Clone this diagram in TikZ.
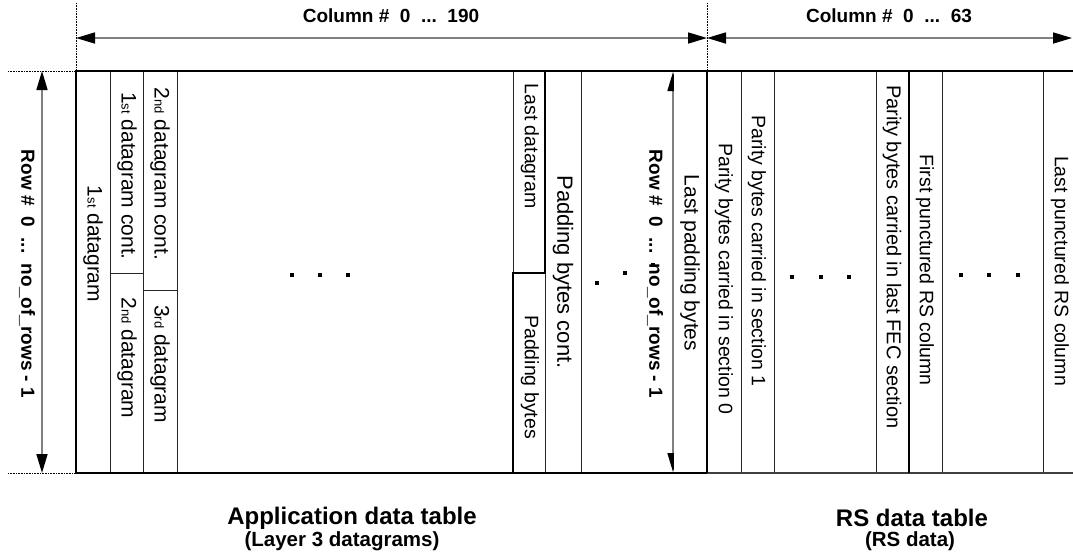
\documentclass[tikz,border=0pt]{standalone}
\usepackage{fontspec}
\setmainfont{Liberation Sans}
\usetikzlibrary{arrows.meta}
% small ordinal suffix, set on the baseline
\newcommand\ordsfx[1]{{\fontsize{13}{13}\selectfont #1}}
\begin{document}
\begin{tikzpicture}[x=1pt,y=-1pt,
  cellline/.style={line width=0.9pt,black!85},
  boldline/.style={line width=2.6pt,black},
  guideline/.style={line width=0.7pt,black,dash pattern=on 0.8pt off 0.8pt},
  dimarrow/.style={line width=1.6pt,gray,
    {Triangle[length=19pt,width=11pt,black]}-{Triangle[length=19pt,width=11pt,black]}},
  vtext/.style={rotate=-90,inner sep=0pt,font=\fontsize{19.5}{22}\selectfont},
  vmid/.style={rotate=-90,inner sep=0pt,font=\fontsize{21}{24}\selectfont},
  vbig/.style={rotate=-90,inner sep=0pt,font=\fontsize{22}{25}\selectfont},
  vlabel/.style={rotate=-90,inner sep=0pt,font=\fontsize{19}{22}\selectfont\bfseries},
  hlabel/.style={inner sep=0pt,font=\fontsize{19}{22}\selectfont\bfseries},
  tabletitle/.style={inner sep=0pt,font=\fontsize{24}{28}\selectfont\bfseries},
  tablesub/.style={inner sep=0pt,font=\fontsize{20.5}{23}\selectfont\bfseries},
  ellipsisdot/.style={fill=black,draw=none,minimum size=4pt,inner sep=0pt,rectangle},
]
\useasboundingbox (0,0) rectangle (1073,558);

% reference corners of the two tables
\coordinate (tl) at (76,71);
\coordinate (bl) at (76,473);
\coordinate (mt) at (707,71);
\coordinate (mb) at (707,473);
\coordinate (tr) at (1073,71);
\coordinate (br) at (1073,473);

% dotted extension lines
\draw[guideline] (8,71) -- (tl);
\draw[guideline] (8,473) -- (bl);
\draw[guideline] (76,3) -- (tl);
\draw[guideline] (707,3) -- (mt);

% column dividers of the application data table
\foreach \cx in {110,143,177,581}
  \draw[cellline] (\cx,71) -- (\cx,473);
\draw[cellline] (513,71) -- (513,273);
\draw[cellline] (545,273) -- (545,473);
\draw[cellline] (110,273) -- (143,273);
\draw[cellline] (143,290) -- (177,290);

% column dividers of the RS data table
\foreach \cx in {741,774,876,942,1043}
  \draw[cellline] (\cx,71) -- (\cx,473);

% inner row dimension, half hidden by the last padding column
\coordinate (irt) at (673,72);
\coordinate (irb) at (673,472);
\draw[dimarrow] (irt) -- (irb);
\fill[white] (674,72.5) rectangle (705.5,471.5);

% outer dimensions
\coordinate (ort) at (42,71);
\coordinate (orb) at (42,473);
\draw[dimarrow] (ort) -- (orb);
\coordinate (cal) at (76,38);
\coordinate (cam) at (707,38);
\coordinate (car) at (1072,38);
\draw[dimarrow] (cal) -- (cam);
\draw[dimarrow] (cam) -- (car);

% heavy outlines
\draw[boldline] (tr) -- (tl) -- (bl) -- (mb);
\draw[line width=2pt,black!75] (mb) -- (br);
\draw[boldline] (mt) -- (mb);
\draw[boldline] (909,71) -- (909,473);
\draw[boldline] (545,71) -- (545,273) -- (513,273) -- (513,473);

% continuation dots
\foreach \dx/\dy in {292/275,320/275,348/275,
                     597/283,625/273,653/265,
                     792/277,821/277,849/277,
                     961/275,989/275,1018/275}
  \node[ellipsisdot] at (\dx,\dy) {};

% column headings
\node[hlabel] (colapp) at (391,16) {Column \#~~0~~...~~190};
\node[hlabel] (colrs) at (889,16) {Column \#~~0~~...~~63};

% row headings
\node[vlabel] (rowout) at (27,274) {Row \#~~0~~...~~no\_of\_rows - 1};
\node[vlabel] (rowin) at (655,274) {Row \#~~0~~...~~no\_of\_rows - 1};

% application data table cells
\node[vmid] (dg1) at (93,244) {1\ordsfx{st} datagram};
\node[vmid] (dg1c) at (127,176) {1\ordsfx{st} datagram cont.};
\node[vmid] (dg2) at (127,358) {2\ordsfx{nd} datagram};
\node[vmid] (dg2c) at (160,174) {2\ordsfx{nd} datagram cont.};
\node[vmid] (dg3) at (160,364) {3\ordsfx{rd} datagram};
\node[vtext] (dglast) at (530,146) {Last datagram};
\node[vtext] (pad) at (530,377) {Padding bytes};
\node[vbig] (padc) at (563,272) {Padding bytes cont.};
\node[vmid] (padlast) at (690,263) {Last padding bytes};

% RS data table cells
\node[vtext] (par0) at (724,279) {Parity bytes carried in section 0};
\node[vtext] (par1) at (757,251) {Parity bytes carried in section 1};
\node[vtext,font=\fontsize{20}{23}\selectfont] (parl) at (892,257) {Parity bytes carried in last FEC section};
\node[vtext] (pfirst) at (925,270) {First punctured RS column};
\node[vtext] (plast) at (1060,271) {Last punctured RS column};

% table captions
\node[tabletitle] (apptitle) at (352,518) {Application data table};
\node[tablesub] (appsub) at (342,541) {(Layer 3 datagrams)};
\node[tabletitle] (rstitle) at (912,518) {RS data table};
\node[tablesub] (rssub) at (910,541) {(RS data)};
\end{tikzpicture}
\end{document}
